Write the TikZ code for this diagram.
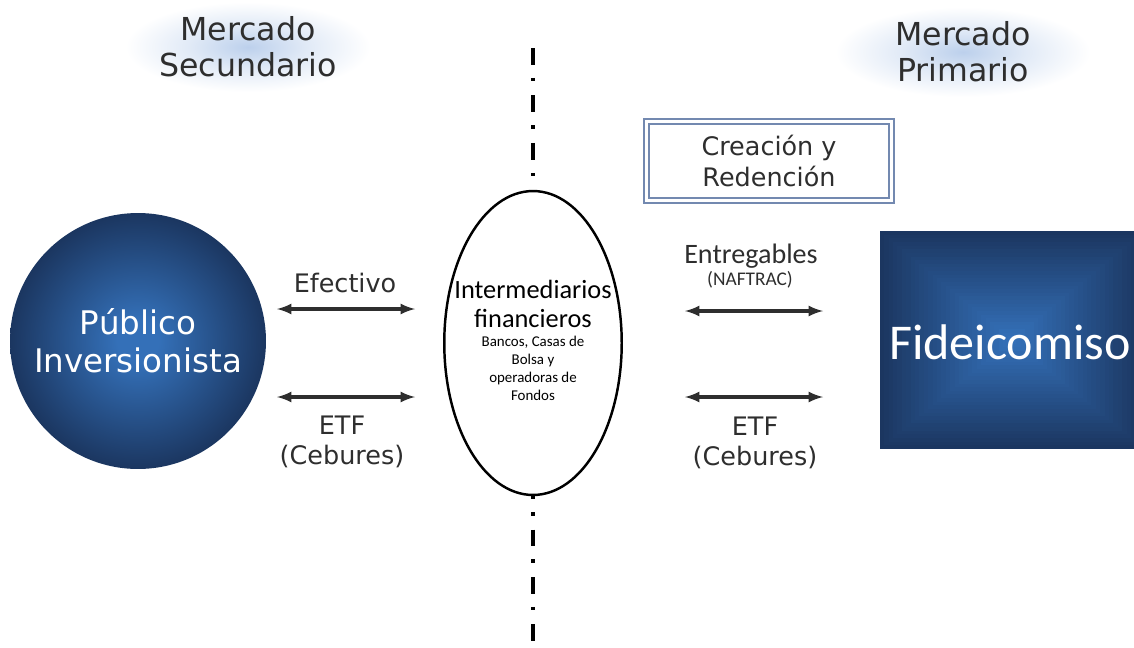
\documentclass[tikz,border=0pt]{standalone}
\usepackage{fontspec}
\setmainfont{DejaVu Sans}
\newfontfamily\calibrifont{Carlito}
\usetikzlibrary{positioning}
\usetikzlibrary{shapes.geometric}
\usetikzlibrary{calc}
\definecolor{bmv-navy}{HTML}{1B3660}
\definecolor{bmv-blue}{HTML}{3470B8}
\definecolor{bmv-frame}{HTML}{7389B0}
\definecolor{bmv-haze}{HTML}{BCD0EC}
\definecolor{bmv-ink}{HTML}{2E2E2E}
\colorlet{bmv-haze-soft}{bmv-haze!45!white}
\colorlet{flow}{bmv-ink}
\pgfdeclareradialshading{orb}{\pgfpoint{0bp}{0bp}}{color(0bp)=(bmv-blue); color(4bp)=(bmv-blue); color(25bp)=(bmv-navy); color(50bp)=(bmv-navy)}
\pgfdeclareradialshading{haze}{\pgfpoint{0bp}{0bp}}{color(0bp)=(bmv-haze); color(12bp)=(bmv-haze-soft); color(25bp)=(white); color(50bp)=(white)}

\begin{document}
\begin{tikzpicture}[x=0.02cm, y=-0.02cm,
  market/.style={align=center, shading=haze, minimum width=4.9cm, minimum height=1.8cm, text=bmv-ink, font=\fontsize{18}{20.5}\selectfont},
  tag/.style={align=center, inner sep=0pt, text=bmv-ink, font=\fontsize{14.5}{17}\selectfont},
  flowline/.style={latex-latex, line width=1.8pt, draw=flow},
  axis/.style={line width=1.9pt, draw=black, dash pattern=on 9.5pt off 7.5pt on 2pt off 8pt}]
\useasboundingbox (0,0) rectangle (1134,647);
\clip (0,0) rectangle (1134,647);

% market headings
\node[market] (secundario) at (248,47) {Mercado\\Secundario};
\node[market, minimum width=5.1cm] (primario) at (963,52) {Mercado\\Primario};

% investors
\node[circle, minimum size=5.12cm, inner sep=0pt, shading=orb, text=white, align=center, font=\fontsize{18.5}{21.5}\selectfont] (publico) at (138,341) {Público\\Inversionista};

% intermediaries
\node[ellipse, draw=black, line width=1.4pt, fill=white, minimum width=3.55cm, minimum height=6.08cm, inner sep=0pt] (inter) at (533,343) {};
\node[align=center, inner sep=0pt, font=\calibrifont\fontsize{15}{17}\selectfont] (intertitle) at (533,304) {Intermediarios\\financieros};
\node[below=4pt of intertitle, align=center, inner sep=0pt, font=\calibrifont\fontsize{8.5}{10.2}\selectfont] (interdesc) {Bancos, Casas de\\Bolsa y\\operadoras de\\Fondos};

% dash-dot divider
\coordinate (axistop) at (533,48);
\coordinate (axisbottom) at (533,647);
\draw[axis] (axistop) -- (inter.north);
\draw[axis, dash phase=8pt] (inter.south) -- (axisbottom);

% trust
\node[minimum width=5.28cm, minimum height=4.34cm, inner sep=0pt] (fide) at (1012,340) {};
\foreach \i in {0,...,29} {
  \pgfmathsetmacro{\shrink}{1-\i/30}
  \pgfmathtruncatemacro{\tint}{100-\i*100/29}
  \fill[bmv-navy!\tint!bmv-blue] ($(fide.center)!\shrink!(fide.south west)$) rectangle ($(fide.center)!\shrink!(fide.north east)$);
}
\node[text=white, inner sep=0pt, font=\calibrifont\fontsize{28.5}{30}\selectfont] (fidetxt) at (1010,342) {Fideicomiso};

% creation box
\node[draw=bmv-frame, double=white, double distance=1.6pt, line width=1.3pt, minimum width=4.9cm, minimum height=1.58cm, align=center, text=bmv-ink, font=\fontsize{14.5}{17.6}\selectfont] (creacion) at (769,161) {Creación y\\Redención};

% secondary market flows
\coordinate (efectivoL) at (277,309);
\coordinate (efectivoR) at (415,309);
\coordinate (etfL) at (277,397);
\coordinate (etfR) at (415,397);
\draw[flowline] (efectivoL) -- (efectivoR);
\draw[flowline] (etfL) -- (etfR);
\node[tag] (efectivo) at (345,283) {Efectivo};
\node[tag] (etfizq) at (342,442) {ETF\\(Cebures)};

% primary market flows
\coordinate (entregaL) at (685,311);
\coordinate (entregaR) at (823,311);
\coordinate (etf2L) at (685,397);
\coordinate (etf2R) at (823,397);
\draw[flowline] (entregaL) -- (entregaR);
\draw[flowline] (etf2L) -- (etf2R);
\node[tag, font=\calibrifont\fontsize{16}{18}\selectfont] (entregables) at (751,256) {Entregables};
\node[tag, font=\calibrifont\fontsize{11}{12}\selectfont] (naftrac) at (750,280) {(NAFTRAC)};
\node[tag] (etfder) at (755,443) {ETF\\(Cebures)};
\end{tikzpicture}
\end{document}
